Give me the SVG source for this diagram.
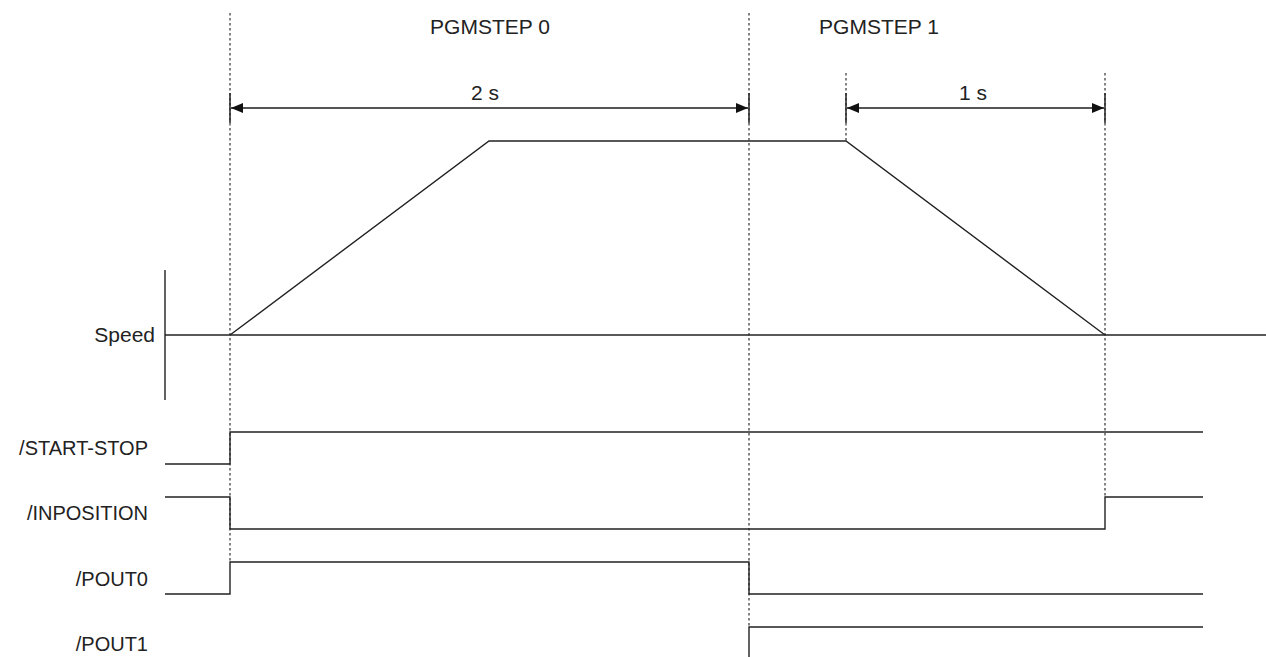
<svg xmlns="http://www.w3.org/2000/svg" width="1266" height="657" viewBox="0 0 1266 657">
<style>
text{font-family:"Liberation Sans",Arial,sans-serif;font-size:21px;fill:#222}
.lab{text-anchor:end;font-size:20px}
.mid{text-anchor:middle}
.sig{fill:none;stroke:#222;stroke-width:1.4}
.dot{fill:none;stroke:#333;stroke-width:1.2;stroke-dasharray:2.5,2.5}
.dim{fill:none;stroke:#555;stroke-width:2}
.tick{stroke:#222;stroke-width:1.5}
</style>
<defs>
<marker id="ah" viewBox="0 0 12 10" refX="12" refY="5" markerWidth="12" markerHeight="10" markerUnits="userSpaceOnUse" orient="auto-start-reverse">
<path d="M0,0 L12,5 L0,10 Z" fill="#111"/>
</marker>
</defs>
<rect width="1266" height="657" fill="#fff"/>
<g id="guides">
<line class="dot" x1="230" y1="13" x2="230" y2="562"/>
<line class="dot" x1="749" y1="13" x2="749" y2="627"/>
<line class="dot" x1="846" y1="73" x2="846" y2="141"/>
<line class="dot" x1="1105" y1="73" x2="1105" y2="497"/>
<line class="tick" x1="230" y1="93" x2="230" y2="123"/>
<line class="tick" x1="749" y1="93" x2="749" y2="123"/>
<line class="tick" x1="846" y1="93" x2="846" y2="123"/>
<line class="tick" x1="1105" y1="93" x2="1105" y2="123"/>
</g>
<g id="step-labels">
<text class="mid" x="490" y="34">PGMSTEP 0</text>
<text class="mid" x="879" y="34">PGMSTEP 1</text>
</g>
<g id="dim-2s">
<line class="dim" x1="231" y1="108" x2="748" y2="108" marker-start="url(#ah)" marker-end="url(#ah)"/>
<text class="mid" x="485" y="100">2 s</text>
</g>
<g id="dim-1s">
<line class="dim" x1="847" y1="108" x2="1104" y2="108" marker-start="url(#ah)" marker-end="url(#ah)"/>
<text class="mid" x="973" y="100">1 s</text>
</g>
<g id="speed">
<text class="lab" x="155" y="342" style="font-size:21px">Speed</text>
<line class="sig" x1="165" y1="270" x2="165" y2="400"/>
<line class="sig" x1="165" y1="335" x2="1266" y2="335"/>
<polyline class="sig" points="230,335 489,141 846,141 1105,335"/>
</g>
<g id="start-stop">
<text class="lab" x="148" y="455">/START-STOP</text>
<polyline class="sig" points="165,464 230,464 230,432 1203,432"/>
</g>
<g id="inposition">
<text class="lab" x="148" y="520">/INPOSITION</text>
<polyline class="sig" points="165,497 230,497 230,529 1105,529 1105,497 1203,497"/>
</g>
<g id="pout0">
<text class="lab" x="148" y="586">/POUT0</text>
<polyline class="sig" points="165,594 230,594 230,562 749,562 749,594 1203,594"/>
</g>
<g id="pout1">
<text class="lab" x="148" y="651">/POUT1</text>
<polyline class="sig" points="749,657 749,627 1203,627"/>
</g>
</svg>
